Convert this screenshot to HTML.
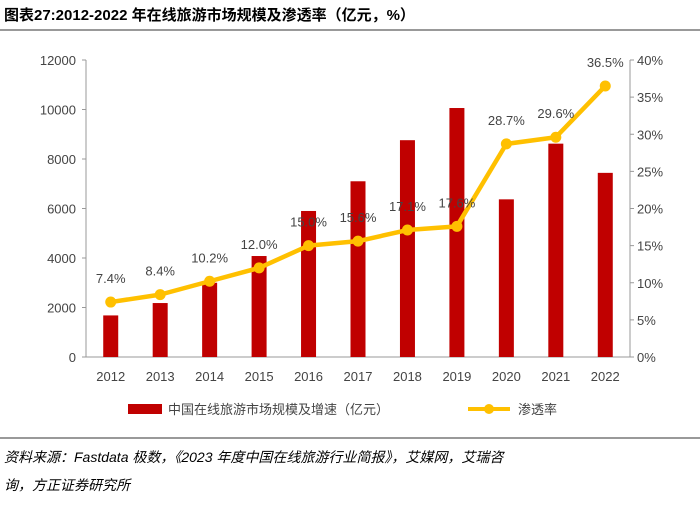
<!DOCTYPE html>
<html><head><meta charset="utf-8"><style>
body{margin:0;background:#fff;width:700px;height:500px;overflow:hidden;font-family:"Liberation Sans","Noto Sans CJK SC",sans-serif}
svg text{font-family:"Liberation Sans","Noto Sans CJK SC",sans-serif}
</style></head><body>
<svg width="700" height="500">
<text x="4" y="20" font-size="15" font-weight="bold" fill="#000">图表27:2012-2022 年在线旅游市场规模及渗透率（亿元，%）</text>
<line x1="0" y1="30" x2="700" y2="30" stroke="#333" stroke-width="1"/>
<g id="plot"></g>
<g>
<rect x="128" y="404" width="34" height="10" fill="#c00000"/>
<text x="168" y="414" font-size="13" fill="#444">中国在线旅游市场规模及增速（亿元）</text>
<line x1="468" y1="409" x2="510" y2="409" stroke="#ffc000" stroke-width="4"/>
<circle cx="489" cy="409" r="5" fill="#ffc000"/>
<text x="518" y="414" font-size="13" fill="#444">渗透率</text>
</g>
<line x1="0" y1="438" x2="700" y2="438" stroke="#333" stroke-width="1"/>
<text x="4" y="462" font-size="14" font-style="italic" fill="#000">资料来源：Fastdata 极数，《2023 年度中国在线旅游行业简报》，艾媒网，艾瑞咨</text>
<text x="4" y="490" font-size="14" font-style="italic" fill="#000">询，方正证券研究所</text>
</svg>
<script>
const years=["2012","2013","2014","2015","2016","2017","2018","2019","2020","2021","2022"];
const marketSize=[1680,2180,3000,4080,5900,7100,8760,10060,6370,8620,7440];
const penetration=[7.4,8.4,10.2,12.0,15.0,15.6,17.1,17.6,28.7,29.6,36.5];
const leftTicks=[0,2000,4000,6000,8000,10000,12000];
const rightTicks=[0,5,10,15,20,25,30,35,40];
const L=86,R=630,T=60,B=357;
const step=(R-L)/years.length;
const xc=i=>L+step*(i+0.5);
const yL=v=>B-(v/12000)*(B-T);
const yR=v=>B-(v/40)*(B-T);
const g=document.getElementById('plot');
const NS="http://www.w3.org/2000/svg";
function mk(t,a){const e=document.createElementNS(NS,t);for(const k in a)e.setAttribute(k,a[k]);g.appendChild(e);return e;}
let e;
e=mk('line',{x1:L,y1:T,x2:L,y2:B,stroke:'#999'});


e=mk('line',{x1:R,y1:T,x2:R,y2:B,stroke:'#999'});


e=mk('line',{x1:L,y1:B,x2:R,y2:B,stroke:'#999'});


leftTicks.forEach(v=>{
 e=mk('line',{x1:L-4,y1:yL(v),x2:L,y2:yL(v),stroke:'#999'});
 
 
 e=mk('text',{x:L-10,y:yL(v)+5,'text-anchor':'end','font-size':13,fill:'#444'});e.textContent=v;
 
 
});
rightTicks.forEach(v=>{
 e=mk('line',{x1:R,y1:yR(v),x2:R+4,y2:yR(v),stroke:'#999'});
 
 
 e=mk('text',{x:R+7,y:yR(v)+5,'font-size':13,fill:'#444'});e.textContent=v+'%';
 
 
});
years.forEach((y,i)=>{
 e=mk('text',{x:xc(i),y:B+24,'text-anchor':'middle','font-size':13,fill:'#444'});e.textContent=y;
 
 
 e=mk('rect',{x:xc(i)-7.5,y:yL(marketSize[i]),width:15,height:B-yL(marketSize[i]),fill:'#c00000'});
 
 
});
e=mk('polyline',{points:penetration.map((v,i)=>xc(i)+','+yR(v)).join(' '),fill:'none',stroke:'#ffc000','stroke-width':4.5,'stroke-linejoin':'round'});


penetration.forEach((v,i)=>{
 e=mk('circle',{cx:xc(i),cy:yR(v),r:5.5,fill:'#ffc000'});
 
 
 e=mk('text',{x:xc(i),y:yR(v)-19,'text-anchor':'middle','font-size':13,fill:'#444'});e.textContent=v.toFixed(1)+'%';
 
 
});
</script>
</body></html>
